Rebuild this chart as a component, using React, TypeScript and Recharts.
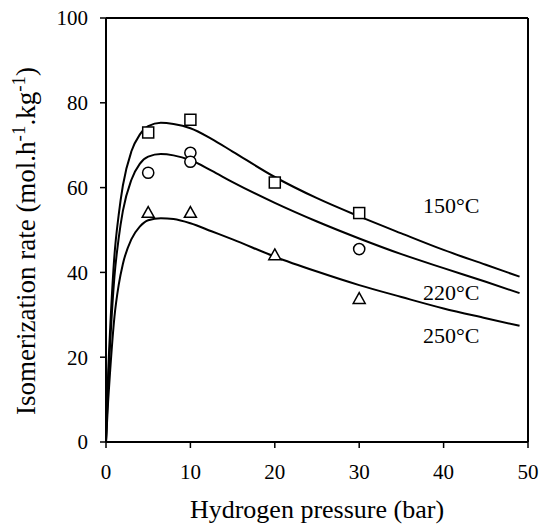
import React from "react";
import {
  ComposedChart,
  Line,
  Scatter,
  XAxis,
  YAxis,
  ReferenceLine,
  ReferenceDot,
  Label,
} from "recharts";

// Model curve sample pressures (bar)
const curvePressure = [0, 0.25, 0.5, 1, 1.5, 2, 3, 4, 5, 6.5, 8, 10, 12.5, 15, 20, 25, 30, 35, 40, 45, 49];
const curveRate150 = [0, 16, 27, 44, 53.5, 60.5, 68.5, 72.5, 74.5, 75.3, 75, 74, 71.5, 68.5, 62.5, 57.5, 53.2, 49.2, 45.3, 41.8, 39.0];
const curveRate220 = [0, 13.5, 23.5, 39, 48, 54.5, 61.8, 65.6, 67.3, 67.9, 67.6, 66.5, 64, 61.3, 56.4, 52, 48, 44.3, 41, 37.8, 35.1];
const curveRate250 = [0, 9.5, 17, 29.5, 37, 42, 47.8, 50.8, 52.3, 52.8, 52.6, 51.6, 49.7, 47.8, 43.7, 40.2, 37.0, 34.2, 31.5, 29.2, 27.4];

// Experimental points
const expPressure150 = [5, 10, 20, 30];
const expRate150 = [73, 76, 61.2, 54];
const expPressure220 = [5, 10, 10, 30];
const expRate220 = [63.5, 68.2, 66.1, 45.5];
const expPressure250 = [5, 10, 20, 30];
const expRate250 = [54, 54, 44, 33.7];

const xTicks = [0, 10, 20, 30, 40, 50];
const yTicks = [0, 20, 40, 60, 80, 100];

const seriesLabels = ["150°C", "220°C", "250°C"];
const labelPressure = [40.9, 40.9, 40.9];
const labelRate = [55.9, 35.4, 25.2];

const toPoints = (xs: number[], ys: number[]) => xs.map((p, i) => ({ p, r: ys[i] }));

const curve150 = toPoints(curvePressure, curveRate150);
const curve220 = toPoints(curvePressure, curveRate220);
const curve250 = toPoints(curvePressure, curveRate250);
const exp150 = toPoints(expPressure150, expRate150);
const exp220 = toPoints(expPressure220, expRate220);
const exp250 = toPoints(expPressure250, expRate250);

const FONT = '"Liberation Serif", "Times New Roman", serif';

const SquareShape = (props: any) => {
  const { cx, cy } = props;
  return <rect x={cx - 5.5} y={cy - 5.5} width={11} height={11} fill="#fff" stroke="#000" strokeWidth={1.5} />;
};
const CircleShape = (props: any) => {
  const { cx, cy } = props;
  return <circle cx={cx} cy={cy} r={5.6} fill="#fff" stroke="#000" strokeWidth={1.5} />;
};
const TriangleShape = (props: any) => {
  const { cx, cy } = props;
  const pts = `${cx},${cy - 6.5} ${cx + 6},${cy + 4.3} ${cx - 6},${cy + 4.3}`;
  return <polygon points={pts} fill="#fff" stroke="#000" strokeWidth={1.5} />;
};

const YTitle = () => (
  <text
    x={35}
    y={241}
    transform="rotate(-90, 35, 241)"
    textAnchor="middle"
    fontFamily={FONT}
    fontSize={27}
    fill="#000"
  >
    <tspan>Isomerization rate (mol.h</tspan>
    <tspan fontSize={19} dy={-10}>-1</tspan>
    <tspan dy={10}>.kg</tspan>
    <tspan fontSize={19} dy={-10}>-1</tspan>
    <tspan dy={10}>)</tspan>
  </text>
);

const XTitle = (props: any) => {
  const vb = props.viewBox || { x: 106, y: 442, width: 422 };
  return (
    <text
      x={vb.x + vb.width / 2}
      y={518}
      textAnchor="middle"
      fontFamily={FONT}
      fontSize={26}
      fill="#000"
    >
      Hydrogen pressure (bar)
    </text>
  );
};

export default function App() {
  const tickStyle = { fill: "#000", fontSize: 21, fontFamily: FONT };
  return (
    <div style={{ position: "absolute", left: 0, top: 0, width: 541, height: 529, background: "#fff" }}>
      <ComposedChart width={541} height={529} margin={{ top: 18, right: 13, bottom: 0, left: 0 }}>
        <XAxis
          dataKey="p"
          type="number"
          domain={[0, 50]}
          ticks={xTicks}
          height={87}
          axisLine={{ stroke: "#000", strokeWidth: 2 }}
          tickLine={{ stroke: "#000", strokeWidth: 1.5 }}
          tickSize={6}
          tickMargin={16}
          tick={tickStyle}
          allowDuplicatedCategory={false}
        >
          <Label content={<XTitle />} />
        </XAxis>
        <YAxis
          dataKey="r"
          type="number"
          domain={[0, 100]}
          ticks={yTicks}
          width={106}
          axisLine={{ stroke: "#000", strokeWidth: 2 }}
          tickLine={{ stroke: "#000", strokeWidth: 1.5 }}
          tickSize={6}
          tickMargin={12}
          tick={tickStyle}
        >
          <Label content={<YTitle />} />
        </YAxis>
        <ReferenceLine y={100} stroke="#000" strokeWidth={2} />
        <ReferenceLine x={50} stroke="#000" strokeWidth={2} />
        <Line data={curve150} dataKey="r" type="monotone" stroke="#000" strokeWidth={2} dot={false} isAnimationActive={false} />
        <Line data={curve220} dataKey="r" type="monotone" stroke="#000" strokeWidth={2} dot={false} isAnimationActive={false} />
        <Line data={curve250} dataKey="r" type="monotone" stroke="#000" strokeWidth={2} dot={false} isAnimationActive={false} />
        <Scatter data={exp150} dataKey="r" shape={<SquareShape />} isAnimationActive={false} />
        <Scatter data={exp220} dataKey="r" shape={<CircleShape />} isAnimationActive={false} />
        <Scatter data={exp250} dataKey="r" shape={<TriangleShape />} isAnimationActive={false} />
        {seriesLabels.map((t, i) => (
          <ReferenceDot
            key={t}
            x={labelPressure[i]}
            y={labelRate[i]}
            r={0}
            shape={(p: any) => (
              <text x={p.cx} y={p.cy + 8} textAnchor="middle" fontFamily={FONT} fontSize={22} fill="#000">
                {t}
              </text>
            )}
          />
        ))}
      </ComposedChart>
    </div>
  );
}
